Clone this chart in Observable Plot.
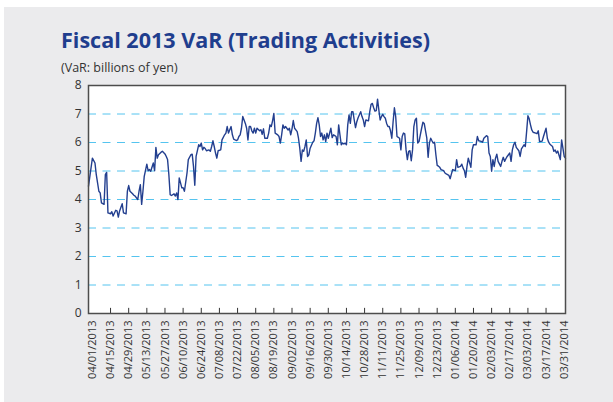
<!DOCTYPE html>
<html><head><meta charset="utf-8">
<script src="https://cdn.jsdelivr.net/npm/d3@7"></script>
<script src="https://cdn.jsdelivr.net/npm/@observablehq/plot@0.6"></script>
<style>
html,body{margin:0;padding:0;background:#fff;width:613px;height:402px;overflow:hidden;position:relative;}
#bg{position:absolute;left:4px;top:7px;right:0;bottom:0;background:#ebebed;}
#chart{position:absolute;left:0;top:0;}
#hdr{position:absolute;left:0;top:0;}
</style></head><body>
<div id="bg"></div>
<div id="chart"></div>
<svg id="hdr" width="613" height="78">
  <text id="title" x="61" y="48" font-family="Open Sans" font-weight="700" font-size="22" fill="#1f3e8e" textLength="369" lengthAdjust="spacingAndGlyphs">Fiscal 2013 VaR (Trading Activities)</text>
  <text id="sub" x="61" y="72" font-family="Open Sans" font-size="12.5" fill="#333">(VaR: billions of yen)</text>
</svg>
<script>
const dates = [
"2013-03-29","2013-04-01","2013-04-03","2013-04-04","2013-04-06","2013-04-07","2013-04-08","2013-04-10","2013-04-11","2013-04-12",
"2013-04-13","2013-04-15","2013-04-16","2013-04-17","2013-04-19","2013-04-20","2013-04-21","2013-04-22","2013-04-24","2013-04-25",
"2013-04-27","2013-04-28","2013-04-29","2013-04-30","2013-05-02","2013-05-03","2013-05-04","2013-05-06","2013-05-07","2013-05-08",
"2013-05-09","2013-05-10","2013-05-11","2013-05-13","2013-05-14","2013-05-15","2013-05-16","2013-05-18","2013-05-19","2013-05-20",
"2013-05-21","2013-05-22","2013-05-24","2013-05-25","2013-05-27","2013-05-28","2013-05-29","2013-05-30","2013-05-31","2013-06-01",
"2013-06-03","2013-06-04","2013-06-05","2013-06-06","2013-06-07","2013-06-09","2013-06-10","2013-06-11","2013-06-13","2013-06-14",
"2013-06-16","2013-06-17","2013-06-18","2013-06-19","2013-06-20","2013-06-22","2013-06-23","2013-06-24","2013-06-25","2013-06-26",
"2013-06-27","2013-06-28","2013-06-30","2013-07-01","2013-07-02","2013-07-03","2013-07-04","2013-07-05","2013-07-06","2013-07-07",
"2013-07-09","2013-07-10","2013-07-12","2013-07-13","2013-07-14","2013-07-15","2013-07-17","2013-07-18","2013-07-19","2013-07-21",
"2013-07-22","2013-07-23","2013-07-24","2013-07-25","2013-07-26","2013-07-28","2013-07-29","2013-07-30","2013-07-31","2013-08-01",
"2013-08-02","2013-08-03","2013-08-04","2013-08-05","2013-08-06","2013-08-08","2013-08-09","2013-08-10","2013-08-11","2013-08-12",
"2013-08-14","2013-08-15","2013-08-16","2013-08-17","2013-08-18","2013-08-19","2013-08-20","2013-08-22","2013-08-23","2013-08-24",
"2013-08-25","2013-08-26","2013-08-27","2013-08-28","2013-08-30","2013-08-31","2013-09-01","2013-09-02","2013-09-03","2013-09-04",
"2013-09-06","2013-09-07","2013-09-08","2013-09-09","2013-09-10","2013-09-11","2013-09-12","2013-09-13","2013-09-14","2013-09-15",
"2013-09-16","2013-09-18","2013-09-19","2013-09-20","2013-09-21","2013-09-22","2013-09-23","2013-09-24","2013-09-25","2013-09-26",
"2013-09-27","2013-09-28","2013-09-29","2013-09-30","2013-10-02","2013-10-03","2013-10-04","2013-10-05","2013-10-06","2013-10-07",
"2013-10-08","2013-10-09","2013-10-10","2013-10-11","2013-10-12","2013-10-13","2013-10-14","2013-10-15","2013-10-16","2013-10-17",
"2013-10-18","2013-10-19","2013-10-20","2013-10-21","2013-10-22","2013-10-23","2013-10-25","2013-10-26","2013-10-27","2013-10-28",
"2013-10-29","2013-10-31","2013-11-01","2013-11-02","2013-11-03","2013-11-04","2013-11-05","2013-11-06","2013-11-07","2013-11-08",
"2013-11-09","2013-11-10","2013-11-11","2013-11-12","2013-11-13","2013-11-14","2013-11-15","2013-11-16","2013-11-17","2013-11-18",
"2013-11-19","2013-11-20","2013-11-21","2013-11-22","2013-11-23","2013-11-24","2013-11-25","2013-11-26","2013-11-27","2013-11-28",
"2013-11-29","2013-11-30","2013-12-01","2013-12-02","2013-12-03","2013-12-04","2013-12-05","2013-12-06","2013-12-07","2013-12-08",
"2013-12-09","2013-12-10","2013-12-11","2013-12-12","2013-12-13","2013-12-15","2013-12-16","2013-12-17","2013-12-18","2013-12-19",
"2013-12-20","2013-12-21","2013-12-22","2013-12-23","2013-12-24","2013-12-25","2013-12-26","2013-12-28","2013-12-29","2013-12-30",
"2014-01-01","2014-01-02","2014-01-03","2014-01-04","2014-01-06","2014-01-07","2014-01-08","2014-01-10","2014-01-11","2014-01-12",
"2014-01-13","2014-01-14","2014-01-15","2014-01-16","2014-01-18","2014-01-19","2014-01-20","2014-01-22","2014-01-23","2014-01-24",
"2014-01-26","2014-01-27","2014-01-28","2014-01-30","2014-01-31","2014-02-01","2014-02-02","2014-02-03","2014-02-04","2014-02-05",
"2014-02-06","2014-02-07","2014-02-08","2014-02-10","2014-02-11","2014-02-12","2014-02-13","2014-02-14","2014-02-15","2014-02-17",
"2014-02-18","2014-02-19","2014-02-20","2014-02-21","2014-02-22","2014-02-24","2014-02-25","2014-02-26","2014-02-28","2014-03-01",
"2014-03-02","2014-03-03","2014-03-04","2014-03-05","2014-03-06","2014-03-07","2014-03-09","2014-03-10","2014-03-11","2014-03-12",
"2014-03-14","2014-03-15","2014-03-17","2014-03-18","2014-03-19","2014-03-20","2014-03-22","2014-03-23","2014-03-24","2014-03-25",
"2014-03-26","2014-03-27","2014-03-28","2014-03-29","2014-03-30","2014-03-31","2014-04-01"
];
const varValues = [
4.47,5.45,5.28,4.87,4.29,4.23,3.88,3.83,4.87,4.95,
3.53,3.50,3.57,3.42,3.62,3.60,3.38,3.60,3.85,3.53,
3.50,4.29,4.49,4.29,4.20,4.15,4.12,4.00,4.29,4.52,
3.83,4.29,4.81,5.24,5.01,5.05,4.99,5.28,5.01,5.83,
5.45,5.57,5.66,5.69,5.60,5.51,5.40,4.87,4.17,4.14,
4.20,4.12,4.23,4.00,4.76,4.41,4.41,4.29,4.93,5.40,
5.57,5.59,5.16,4.50,5.51,5.92,5.86,5.98,5.74,5.83,
5.79,5.71,5.74,5.69,5.86,6.06,5.86,5.63,5.45,5.71,
5.74,6.09,6.27,6.33,6.56,6.33,6.56,6.27,6.12,6.07,
6.09,6.21,6.27,6.50,6.91,6.67,6.50,6.09,6.56,6.56,
6.41,6.33,6.50,6.33,6.50,6.41,6.45,6.29,6.48,6.15,
6.15,6.33,6.62,6.56,6.76,7.02,6.33,6.27,6.21,5.98,
6.27,6.62,6.50,6.56,6.44,6.50,6.27,6.48,6.77,6.50,
6.38,6.15,5.80,5.34,5.74,5.69,5.86,6.09,5.51,5.57,
5.80,6.01,6.06,6.33,6.67,6.87,6.62,6.21,6.33,6.09,
6.27,6.03,6.33,6.15,6.50,6.17,6.27,6.24,6.21,5.92,
6.62,6.27,5.92,5.98,5.95,5.98,5.92,6.62,6.97,6.67,
7.08,7.08,6.79,6.52,6.73,6.87,7.08,6.91,6.79,6.56,
6.79,6.76,7.08,7.34,7.37,7.22,7.10,7.12,7.52,7.14,
6.79,6.91,6.99,6.91,6.85,6.67,6.56,6.56,6.41,6.15,
6.73,7.22,6.91,6.21,6.18,6.15,5.74,6.21,6.33,6.30,
5.74,5.40,5.69,5.71,5.36,5.74,6.56,6.79,6.85,5.98,
6.03,6.27,6.50,6.71,6.67,6.15,5.48,5.98,6.15,6.06,
5.98,6.01,5.57,5.20,5.17,5.13,5.05,5.01,4.93,4.90,
4.85,4.73,4.90,5.05,5.01,5.40,5.13,5.16,5.24,5.10,
5.01,4.78,5.16,5.45,5.13,5.74,5.92,5.92,6.21,6.06,
6.04,6.01,6.15,6.24,6.21,5.63,5.51,4.99,5.40,5.16,
5.45,5.59,5.34,5.16,5.34,5.48,5.34,5.43,5.51,5.63,
5.34,5.74,5.92,6.01,5.83,5.71,5.51,5.78,5.92,5.86,
6.38,6.94,6.83,6.62,6.44,6.36,6.33,6.31,6.41,6.03,
6.05,6.21,6.50,6.15,6.01,5.94,5.86,5.69,5.74,5.63,
5.70,5.55,5.40,6.09,5.80,5.51,5.45
];
const tickLabels = [
"04/01/2013","04/15/2013","04/29/2013","05/13/2013","05/27/2013","06/10/2013","06/24/2013",
"07/08/2013","07/22/2013","08/05/2013","08/19/2013","09/02/2013","09/16/2013","09/30/2013",
"10/14/2013","10/28/2013","11/11/2013","11/25/2013","12/09/2013","12/23/2013","01/06/2014",
"01/20/2014","02/03/2014","02/17/2014","03/03/2014","03/17/2014","03/31/2014"
];
const yTicks = [0,1,2,3,4,5,6,7,8];
const gridValues = [1,2,3,4,5,6,7];
const xDomain = ["2013-03-29","2014-04-01"];

const parse = d3.utcParse("%Y-%m-%d");
const parseTick = d3.utcParse("%m/%d/%Y");
const data = dates.map((d, i) => ({date: parse(d), value: varValues[i]}));
const tickDates = tickLabels.map(parseTick);

const chart = Plot.plot({
  width: 613, height: 402,
  marginLeft: 88, marginRight: 48, marginTop: 85, marginBottom: 89,
  style: {background: "transparent", fontFamily: "Open Sans", color: "#333"},
  x: {type: "utc", domain: xDomain.map(parse)},
  y: {domain: [0, 8]},
  marks: [
    Plot.frame({fill: "white", stroke: null}),
    Plot.ruleY(gridValues, {stroke: "#55c4ef", strokeWidth: 1, strokeDasharray: "8,6.5"}),
    Plot.ruleX(tickDates.slice(1, -1), {y1: 0, y2: 0.18, stroke: "#333", strokeWidth: 1}),
    Plot.lineY(data, {x: "date", y: "value", stroke: "#233f8f", strokeWidth: 1.4}),
    Plot.frame({stroke: "#4d4d4d", strokeWidth: 1.5}),
    Plot.axisY({ticks: yTicks, tickSize: 0, tickPadding: 7, fontSize: 12, label: null, tickFormat: d => String(d)}),
    Plot.axisX({ticks: tickDates, tickFormat: d3.utcFormat("%m/%d/%Y"), tickRotate: -90, tickSize: 0, tickPadding: 7, fontSize: 11, label: null})
  ]
});
document.getElementById("chart").appendChild(chart);
</script>
</body></html>
